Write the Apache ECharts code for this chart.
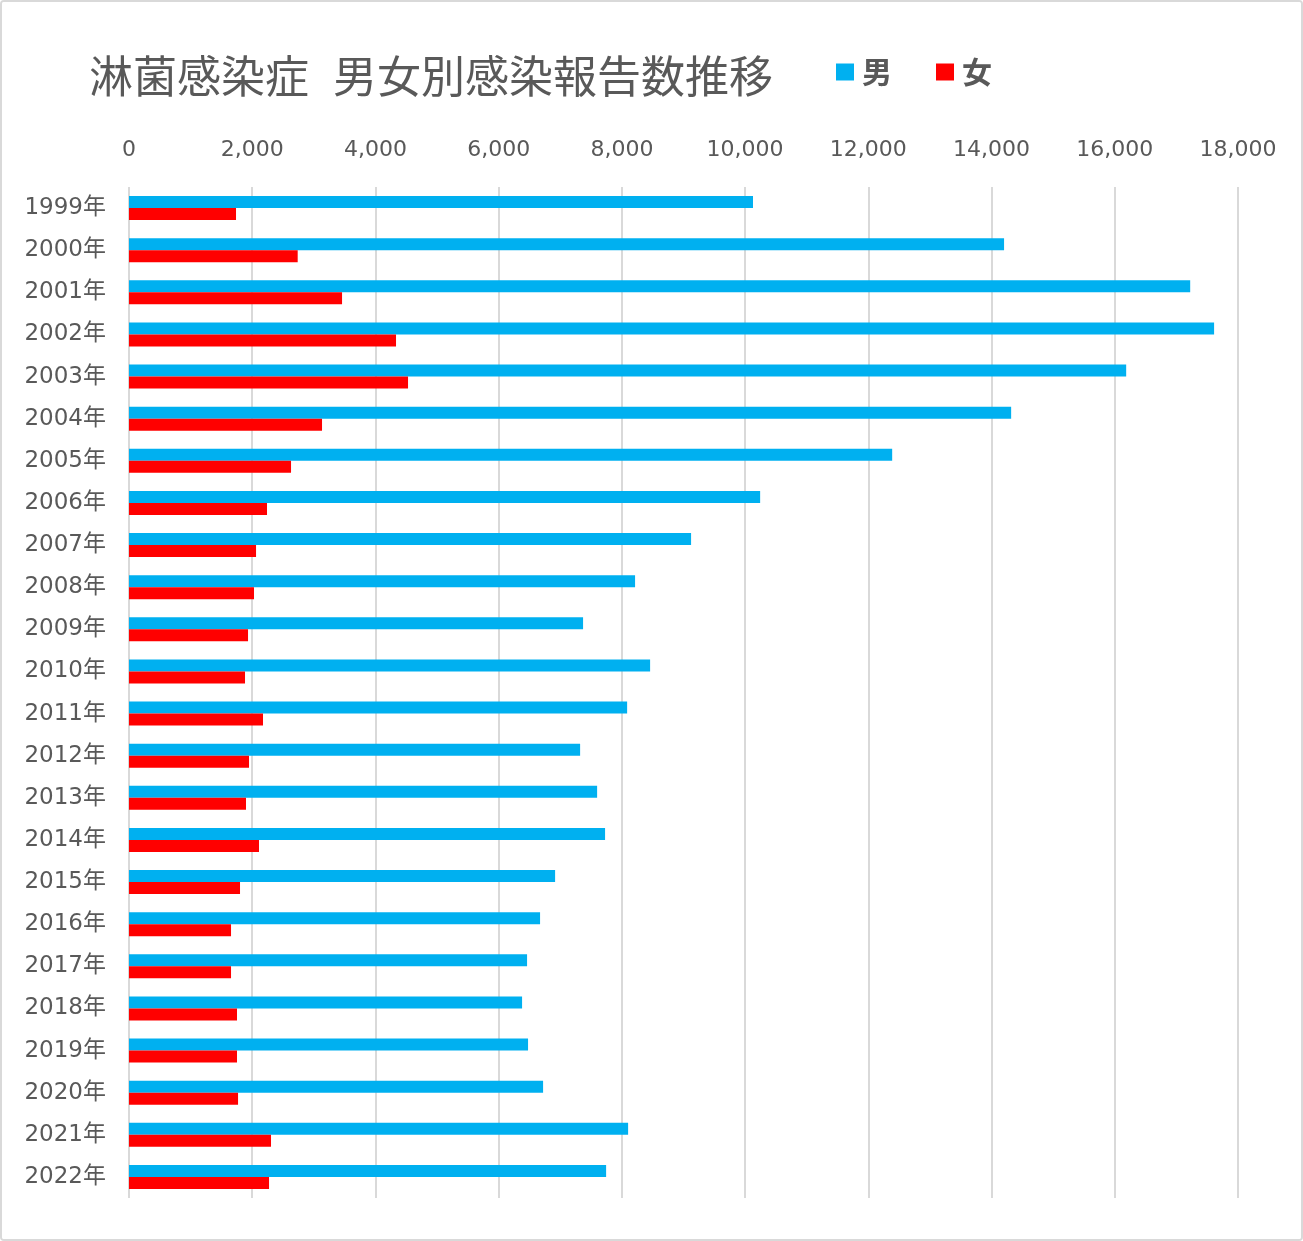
<!DOCTYPE html>
<html>
<head>
<meta charset="utf-8">
<script src="https://cdn.jsdelivr.net/npm/echarts@6/dist/echarts.min.js"></script>
<style>
html,body{margin:0;padding:0;background:#fff;}
#wrap{width:1303px;height:1241px;box-sizing:border-box;border:2px solid #d9d9d9;border-radius:4px;position:relative;overflow:hidden;}
#chart{position:absolute;left:-2px;top:-2px;width:1303px;height:1241px;}
</style>
</head>
<body>
<div id="wrap"><div id="chart"></div></div>
<script>
const years = ["1999年","2000年","2001年","2002年","2003年","2004年","2005年","2006年","2007年","2008年","2009年","2010年","2011年","2012年","2013年","2014年","2015年","2016年","2017年","2018年","2019年","2020年","2021年","2022年"];
const male = [10128, 14203, 17224, 17612, 16185, 14318, 12387, 10244, 9123, 8214, 7370, 8458, 8085, 7322, 7598, 7727, 6916, 6672, 6461, 6380, 6477, 6721, 8101, 7744];
const female = [1737, 2738, 3458, 4334, 4529, 3133, 2630, 2240, 2062, 2029, 1932, 1883, 2175, 1948, 1899, 2110, 1802, 1656, 1656, 1753, 1753, 1770, 2305, 2273];
const seriesNames = ["男", "女"];
const titleParts = ["淋菌感染症", "男女別感染報告数推移"];

const chart = echarts.init(document.getElementById('chart'), null, {renderer: 'canvas'});
const grey = '#595959';
const titleStyle = {
  fontFamily: '"Noto Sans CJK JP", sans-serif',
  fontSize: 44,
  fontWeight: 'normal',
  color: grey,
  lineHeight: 50
};
chart.setOption({
  animation: false,
  backgroundColor: '#fff',
  title: {
    text: '{a|' + titleParts[0] + '}{b|' + titleParts[1] + '}',
    left: 84,
    top: 46,
    textStyle: {
      fontFamily: titleStyle.fontFamily,
      fontSize: 44,
      color: grey,
      rich: {
        a: Object.assign({}, titleStyle),
        b: Object.assign({}, titleStyle, {padding: [0, 0, 0, 24]})
      }
    }
  },
  legend: {
    data: seriesNames,
    left: 831,
    top: 52,
    icon: 'rect',
    itemWidth: 18,
    itemHeight: 17,
    itemGap: 44,
    textStyle: {
      fontFamily: '"Noto Sans CJK JP", sans-serif',
      fontSize: 30,
      fontWeight: 'bold',
      color: grey,
      padding: [0, 0, 0, 3]
    }
  },
  grid: {left: 129, right: 65, top: 187, bottom: 43, containLabel: false},
  xAxis: {
    type: 'value',
    position: 'top',
    min: 0,
    max: 18000,
    interval: 2000,
    axisLine: {show: false},
    axisTick: {show: false},
    splitLine: {show: true, lineStyle: {color: '#d9d9d9', width: 2}},
    axisLabel: {
      margin: 26,
      color: grey,
      fontFamily: '"DejaVu Sans", sans-serif',
      fontSize: 22,
      formatter: v => v.toLocaleString('en-US')
    }
  },
  yAxis: {
    type: 'category',
    inverse: true,
    data: years,
    axisLine: {show: false},
    axisTick: {show: false},
    axisLabel: {
      margin: 23,
      color: grey,
      fontFamily: '"DejaVu Sans", "Noto Sans CJK JP", sans-serif',
      fontSize: 23
    }
  },
  series: [
    {name: seriesNames[0], type: 'bar', data: male, barWidth: 12, barGap: '0%', itemStyle: {color: '#00B0F0'}},
    {name: seriesNames[1], type: 'bar', data: female, barWidth: 12, barGap: '0%', itemStyle: {color: '#FF0000'}}
  ]
});
</script>
</body>
</html>
